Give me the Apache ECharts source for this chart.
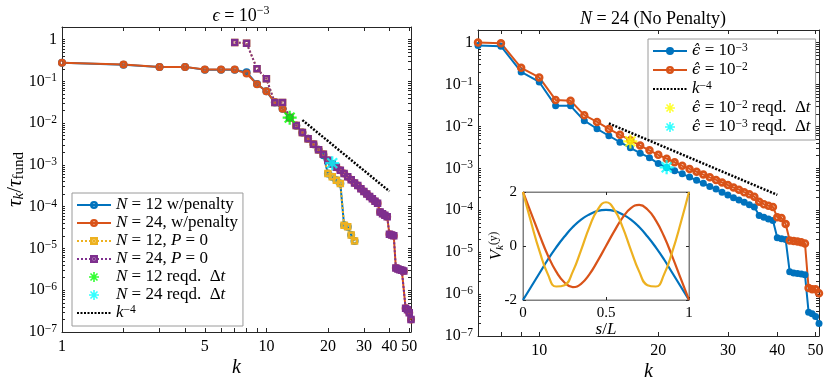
<!DOCTYPE html>
<html>
<head>
<meta charset="utf-8">
<script src="https://cdn.jsdelivr.net/npm/echarts@6/dist/echarts.min.js"></script>
<style>html,body{margin:0;padding:0;background:#fff}#main{width:830px;height:382px}</style>
</head>
<body>
<div id="main"></div>
<script>
// ---- data ----
var k1to27 = [1,2,3,4,5,6,7,8,9,10,11,12,13,14,15,16,17,18,19,20,21,22,23,24,25,26,27];
var k1to51 = [1,2,3,4,5,6,7,8,9,10,11,12,13,14,15,16,17,18,19,20,21,22,23,24,25,26,27,28,29,30,31,32,33,34,35,36,37,38,39,40,41,42,43,44,45,46,47,48,49,50,51];
var k7to27 = [7,8,9,10,11,12,13,14,15,16,17,18,19,20,21,22,23,24,25,26,27];
var k7to51 = [7,8,9,10,11,12,13,14,15,16,17,18,19,20,21,22,23,24,25,26,27,28,29,30,31,32,33,34,35,36,37,38,39,40,41,42,43,44,45,46,47,48,49,50,51];

// left panel, eps = 1e-3
var n12Pen = [0.28,0.25,0.222,0.222,0.19,0.19,0.19,0.165,0.086,0.058,0.031,0.022,0.0135,0.0087,0.006,0.0042,0.0031,0.0023,0.0017,
  0.00062,0.00052,0.00043,0.00036,0.000036,0.000033,0.000021,0.000015];
var n24Pen = [0.277,0.252,0.222,0.222,0.191,0.191,0.191,0.154,0.085,0.058,0.032,0.022,0.0135,0.0088,0.006,0.0042,0.0031,0.0023,0.0018,
  0.0013,0.00105,0.00088,0.00074,0.00062,0.00052,0.00044,0.00037,0.00032,0.00027,0.00023,0.0002,0.000175,0.000155,0.000135,0.00012,
  0.000075,0.000068,0.000062,0.000057,0.000022,0.000021,0.00002,0.0000034,0.0000032,0.0000031,0.000003,0.0000029,
  0.00000037,0.00000034,0.00000029,0.0000002];
var n12P0 = [0.85,0.82,0.2,0.115,0.031,0.031,0.0137,0.0088,0.006,0.0042,0.0031,0.0023,0.0018,
  0.00062,0.00052,0.00043,0.00036,0.000036,0.000033,0.000021,0.000015];
// N = 24 without penalty, eps = 1e-3 (same curve in both panels)
var n24P0 = [0.85,0.82,0.2,0.115,0.031,0.031,0.0137,0.0088,0.006,0.0042,0.0031,0.0023,0.0018,
  0.0013,0.00105,0.00088,0.00074,0.00062,0.00052,0.00044,0.00037,0.00032,0.00027,0.00023,0.0002,0.000175,0.000155,0.000135,0.00012,
  0.000075,0.000068,0.000062,0.000057,0.000022,0.000021,0.00002,0.0000034,0.0000032,0.0000031,0.000003,0.0000029,
  0.00000037,0.00000034,0.00000029,0.0000002];
// right panel, eps = 1e-2
var n24Eps2 = [1.0,0.97,0.25,0.148,0.043,0.041,0.0186,0.0128,0.0087,0.0063,0.0047,0.0035,0.0027,0.0021,0.0017,0.0014,0.00115,
  0.00097,0.00083,0.00071,0.00061,0.00053,0.00046,0.0004,0.00035,0.00031,0.00027,0.00024,0.00021,0.00016,0.00014,0.000128,0.00012,
  0.000068,0.000065,0.000047,0.000019,0.0000185,0.000018,0.0000172,0.0000162,0.0000014,0.0000013,0.0000013,0.00000105];

var slopeK = [15, 40];
var slopeV = [0.0118, 0.000233];
var reqdN12 = [13, 0.0135];
var reqdN24 = [21, 0.0011];
var reqdEps2 = [17, 0.0044];
var reqdEps3 = [21, 0.00106];

// inset: mode shapes
var sL = [0,0.05,0.1,0.15,0.2,0.25,0.3,0.35,0.4,0.45,0.5,0.55,0.6,0.65,0.7,0.75,0.8,0.85,0.9,0.95,1];
var mode1 = [-2,-1.5,-1.0,-0.5,-0.05,0.35,0.7,0.98,1.17,1.3,1.34,1.3,1.17,0.98,0.7,0.35,-0.05,-0.5,-1.0,-1.5,-2];
var mode2 = [2,1.2,0.4,-0.35,-0.95,-1.35,-1.52,-1.4,-1.05,-0.55,0,0.55,1.05,1.4,1.52,1.35,0.95,0.35,-0.4,-1.2,-2];
var mode3 = [2,0.85,-0.2,-1.05,-1.5,-1.45,-0.95,-0.15,0.7,1.35,1.62,1.35,0.7,-0.15,-0.95,-1.45,-1.5,-1.05,-0.2,0.85,2];

var xTicksL = [1,2,3,4,5,6,7,8,9,10,20,30,40,50];
var xLabelsL = [1,5,10,20,30,40,50];
var xTicksR = [8,9,10,20,30,40,50];
var xLabelsR = [10,20,30,40,50];

// ---- helpers ----
function zip(a, b) { return a.map(function (v, i) { return [v, b[i]]; }); }
var FONT = 'Liberation Serif';
var AX = '#262626';
var BLUE = '#0072BD', ORANGE = '#D95319', YELLOW = '#EDB120', PURPLE = '#7E2F8E';
var STAR = 'path://M8.4 0L11.6 0L11.6 20L8.4 20Z M0 8.4L20 8.4L20 11.6L0 11.6Z ' +
  'M4.13 1.87L18.13 15.87L15.87 18.13L1.87 4.13Z M18.13 4.13L4.13 18.13L1.87 15.87L15.87 1.87Z';
// thick-edged hollow markers (ring / square frame)
var RING = 'path://M5 0A5 5 0 1 1 5 10A5 5 0 1 1 5 0Z M5 3.2A1.8 1.8 0 1 0 5 6.8A1.8 1.8 0 1 0 5 3.2Z';
var FRAME = 'path://M0 0L10 0L10 10L0 10Z M3.4 3.4L3.4 6.6L6.6 6.6L6.6 3.4Z';

var decTicks = [];
for (var e = -7; e <= 0; e++) {
  for (var m = 1; m < 10; m++) {
    var v = +(m * Math.pow(10, e)).toPrecision(3);
    if (v <= 2) decTicks.push(v);
  }
}
var decLabels = [1e-7,1e-6,1e-5,1e-4,1e-3,1e-2,1e-1,1];

function txt(size, extra) {
  return Object.assign({fontFamily: FONT, fontSize: size, color: '#000', fontWeight: 'normal'}, extra || {});
}
var rich = {
  n: txt(17, {lineHeight: 18}),
  i: txt(17, {fontStyle: 'italic', lineHeight: 18}),
  eh: txt(15, {fontFamily: 'DejaVu Serif', fontStyle: 'italic', lineHeight: 18}),
  sup: txt(11.5, {verticalAlign: 'top', lineHeight: 18, padding: [0, 0, 7, 0]}),
  sub: txt(11, {lineHeight: 18, padding: [7, 0, 0, 0]}),
  subi: txt(11, {fontStyle: 'italic', lineHeight: 18, padding: [7, 0, 0, 0]})
};
var tickRich = {
  n: txt(16, {lineHeight: 18}),
  sup: txt(11.5, {verticalAlign: 'top', lineHeight: 18, padding: [0, 0, 7, 0]})
};

function powLabel(v) {
  var p = Math.round(Math.log10(v));
  if (p === 0) return '{n|1}';
  return '{n|10}{sup|' + (p < 0 ? '\u2212' : '') + Math.abs(p) + '}';
}

function logX(grid, pos, min, max, ticks, labels, name) {
  return {
    type: 'log', logBase: 10, gridIndex: grid, position: pos, min: min, max: max,
    name: name || '', nameLocation: 'middle', nameGap: 26, nameMoveOverlap: false,
    nameTextStyle: txt(20, {fontStyle: 'italic'}),
    axisLine: {show: true, onZero: false, lineStyle: {color: AX, width: 1}},
    axisTick: {show: true, inside: true, length: 4, customValues: ticks, lineStyle: {color: AX}},
    axisLabel: Object.assign({show: !!labels, customValues: labels, margin: 7}, txt(16)),
    splitLine: {show: false}
  };
}
function logY(grid, pos, showLabels) {
  return {
    type: 'log', logBase: 10, gridIndex: grid, position: pos, min: 1e-7, max: 2,
    axisLine: {show: true, onZero: false, lineStyle: {color: AX, width: 1}},
    axisTick: {show: true, inside: true, length: 3, customValues: decTicks, lineStyle: {color: AX}},
    axisLabel: {show: showLabels, customValues: decLabels, margin: 5, formatter: powLabel, rich: tickRich},
    splitLine: {show: false}
  };
}
function linAxis(grid, pos, min, max, interval, labels) {
  return {
    type: 'value', gridIndex: grid, position: pos, min: min, max: max, interval: interval,
    axisLine: {show: true, onZero: false, lineStyle: {color: '#808080', width: 1}},
    axisTick: {show: true, inside: true, length: 3, lineStyle: {color: AX}},
    axisLabel: Object.assign({show: labels, margin: 6}, txt(15)),
    splitLine: {show: false}, z: 10
  };
}

function penLine(name, data, color, dotted, sym, size, xi, yi) {
  return {
    name: name, type: 'line', xAxisIndex: xi, yAxisIndex: yi, data: data,
    symbol: sym, symbolSize: size, showSymbol: true, symbolKeepAspect: true,
    lineStyle: {color: color, width: 2, type: dotted ? [2, 2] : 'solid'},
    itemStyle: {color: color, borderWidth: 0},
    animation: false
  };
}
function starSeries(name, pt, color, xi, yi) {
  return {
    name: name, type: 'scatter', xAxisIndex: xi, yAxisIndex: yi, data: [pt],
    symbol: STAR, symbolSize: 14, symbolKeepAspect: true,
    itemStyle: {color: color}, z: 5, animation: false
  };
}
function slopeSeries(name, xi, yi) {
  return {
    name: name, type: 'line', xAxisIndex: xi, yAxisIndex: yi, data: zip(slopeK, slopeV),
    symbol: 'none', lineStyle: {color: '#000', width: 2.5, type: [2, 1.5]},
    itemStyle: {color: 'rgba(0,0,0,0)', borderColor: 'rgba(0,0,0,0)'}, z: 4, animation: false
  };
}
function modeLine(data, color) {
  return {
    type: 'line', xAxisIndex: 4, yAxisIndex: 4, data: data, smooth: true, symbol: 'none',
    lineStyle: {color: color, width: 2.2}, z: 12, animation: false
  };
}

var legendNames = {
  n12pen: '{i|N}{n| = 12 w/penalty}',
  n24pen: '{i|N}{n| = 24, w/penalty}',
  n12p0: '{i|N}{n| = 12, }{i|P}{n| = 0}',
  n24p0: '{i|N}{n| = 24, }{i|P}{n| = 0}',
  star12: '{i|N}{n| = 12 reqd.  \u0394}{i|t}',
  star24: '{i|N}{n| = 24 reqd.  \u0394}{i|t}',
  k4L: '{i|k}{sup|\u22124}',
  eps3: '{eh|\u03f5\u0302}{n| = 10}{sup|\u22123}',
  eps2: '{eh|\u03f5\u0302}{n| = 10}{sup|\u22122}',
  k4R: '{i|k}{sup|\u22124}',
  starY: '{eh|\u03f5\u0302}{n| = 10}{sup|\u22122}{n| reqd.  \u0394}{i|t}',
  starC: '{eh|\u03f5\u0302}{n| = 10}{sup|\u22123}{n| reqd.  \u0394}{i|t}'
};
function legendBox(names, left, top) {
  return {
    data: names, orient: 'vertical', left: left, top: top,
    itemWidth: 34, itemHeight: 10, itemGap: 0, padding: [3, 5, 3, 4],
    backgroundColor: '#fff', borderColor: '#9a9a9a', borderWidth: 1,
    formatter: function (n) { return legendNames[n]; },
    textStyle: {rich: rich, lineHeight: 18},
    selectedMode: false
  };
}

var titleRich = {
  i: txt(18, {fontStyle: 'italic', lineHeight: 22}),
  n: txt(18, {lineHeight: 22}),
  sup: txt(12, {verticalAlign: 'top', lineHeight: 22, padding: [0, 0, 8, 0]})
};

var option = {
  backgroundColor: '#fff',
  animation: false,
  title: [
    {text: '{i|\u03f5}{n| = 10}{sup|\u22123}', left: 236, top: 0, textAlign: 'center',
     textStyle: {fontWeight: 'normal', rich: titleRich}},
    {text: '{i|N}{n| = 24 (No Penalty)}', left: 648, top: 3, textAlign: 'center',
     textStyle: {fontWeight: 'normal', rich: titleRich}}
  ],
  grid: [
    {left: 62, top: 27, width: 349, height: 305, containLabel: false, outerBoundsMode: 'none'},
    {left: 478, top: 30, width: 341, height: 306, containLabel: false, outerBoundsMode: 'none'},
    {left: 523, top: 192, width: 166, height: 108, containLabel: false, outerBoundsMode: 'none',
     show: true, backgroundColor: '#fff', borderColor: '#808080', borderWidth: 1, z: 8}
  ],
  xAxis: [
    logX(0, 'bottom', 1, 51, xTicksL, xLabelsL, 'k'),
    logX(0, 'top', 1, 51, xTicksL, null),
    logX(1, 'bottom', 7, 51, xTicksR, xLabelsR, 'k'),
    logX(1, 'top', 7, 51, xTicksR, null),
    Object.assign(linAxis(2, 'bottom', 0, 1, 0.5, true), {name: '{i|s}{n|/}{i|L}', nameLocation: 'middle', nameGap: 21,
      nameMoveOverlap: false, nameTextStyle: {rich: rich}}),
    linAxis(2, 'top', 0, 1, 0.5, false)
  ],
  yAxis: [
    Object.assign(logY(0, 'left', true), {name: '{i|\u03c4}{subi|k}{n|/}{i|\u03c4}{sub|fund}', nameLocation: 'middle', nameGap: 35,
      nameMoveOverlap: false, nameRotate: 90, nameTextStyle: {rich: {
        i: txt(21, {fontStyle: 'italic', lineHeight: 24}),
        n: txt(21, {lineHeight: 24}),
        sub: txt(15, {lineHeight: 24, padding: [8, 0, 0, 0]}),
        subi: txt(15, {fontStyle: 'italic', lineHeight: 24, padding: [8, 0, 0, 0]})}}}),
    logY(0, 'right', false),
    logY(1, 'left', true),
    logY(1, 'right', false),
    Object.assign(linAxis(2, 'left', -2, 2, 2, true), {name: '{i|V}{subi|k}{sup|(y)}', nameLocation: 'middle', nameGap: 17,
      nameMoveOverlap: false, nameRotate: 90, nameTextStyle: {rich: rich}}),
    linAxis(2, 'right', -2, 2, 2, false)
  ],
  legend: [
    legendBox(['n12pen', 'n24pen', 'n12p0', 'n24p0', 'star12', 'star24', 'k4L'], 72, 193),
    legendBox(['eps3', 'eps2', 'k4R', 'starY', 'starC'], 648, 39)
  ],
  series: [
    penLine('n12pen', zip(k1to27, n12Pen), BLUE, false, RING, 8, 0, 0),
    penLine('n24pen', zip(k1to51, n24Pen), ORANGE, false, RING, 8, 0, 0),
    penLine('n12p0', zip(k7to27, n12P0), YELLOW, true, FRAME, 7.5, 0, 0),
    penLine('n24p0', zip(k7to51, n24P0), PURPLE, true, FRAME, 7.5, 0, 0),
    starSeries('star12', reqdN12, '#00FF00', 0, 0),
    starSeries('star24', reqdN24, '#00FFFF', 0, 0),
    slopeSeries('k4L', 0, 0),

    penLine('eps3', zip(k7to51, n24P0), BLUE, false, 'circle', 7, 2, 2),
    penLine('eps2', zip(k7to51, n24Eps2), ORANGE, false, RING, 8.5, 2, 2),
    slopeSeries('k4R', 2, 2),
    starSeries('starY', reqdEps2, '#FFFF00', 2, 2),
    starSeries('starC', reqdEps3, '#00FFFF', 2, 2),

    modeLine(zip(sL, mode1), BLUE),
    modeLine(zip(sL, mode2), ORANGE),
    modeLine(zip(sL, mode3), YELLOW)
  ]
};

var myChart = echarts.init(document.getElementById('main'));
myChart.setOption(option);
</script>
</body>
</html>
